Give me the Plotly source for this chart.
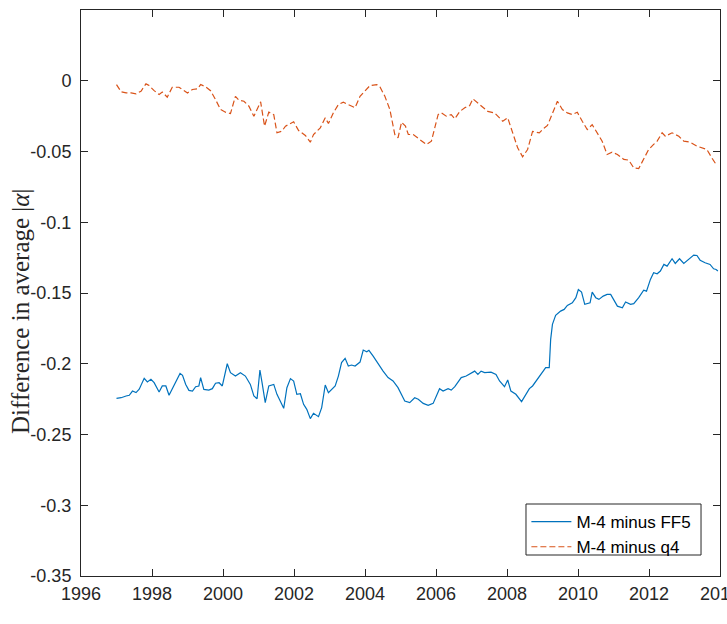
import plotly.graph_objects as go

# ---- data (decimal years) ----
ff5_years = [1997.00, 1997.13, 1997.27, 1997.36, 1997.45, 1997.55, 1997.64, 1997.78, 1997.87, 1997.97,
             1998.06, 1998.20, 1998.29, 1998.39, 1998.48, 1998.57, 1998.67, 1998.79, 1998.86, 1998.95,
             1999.04, 1999.14, 1999.23, 1999.32, 1999.37, 1999.46, 1999.60, 1999.70, 1999.79, 1999.89,
             1999.98, 2000.12, 2000.21, 2000.35, 2000.49, 2000.63, 2000.77, 2000.87, 2000.96, 2001.04,
             2001.10, 2001.19, 2001.29, 2001.43, 2001.52, 2001.62, 2001.71, 2001.80, 2001.90, 2001.99,
             2002.08, 2002.18, 2002.27, 2002.36, 2002.46, 2002.55, 2002.69, 2002.78, 2002.88, 2002.97,
             2003.06, 2003.16, 2003.25, 2003.34, 2003.44, 2003.53, 2003.62, 2003.72, 2003.86, 2003.95,
             2004.05, 2004.11, 2004.23, 2004.37, 2004.51, 2004.65, 2004.79, 2004.93, 2005.03, 2005.12,
             2005.26, 2005.40, 2005.50, 2005.64, 2005.78, 2005.92, 2006.10, 2006.20, 2006.34, 2006.43,
             2006.53, 2006.71, 2006.85, 2006.99, 2007.09, 2007.18, 2007.27, 2007.37, 2007.55, 2007.69,
             2007.79, 2007.93, 2008.02, 2008.11, 2008.25, 2008.41, 2008.63, 2008.72, 2008.86, 2009.00,
             2009.09, 2009.19, 2009.23, 2009.28, 2009.37, 2009.51, 2009.61, 2009.70, 2009.84, 2009.94,
             2010.01, 2010.10, 2010.19, 2010.34, 2010.40, 2010.50, 2010.59, 2010.71, 2010.82, 2010.92,
             2011.01, 2011.11, 2011.25, 2011.34, 2011.48, 2011.57, 2011.71, 2011.85, 2011.93, 2012.04,
             2012.13, 2012.23, 2012.32, 2012.42, 2012.51, 2012.65, 2012.74, 2012.86, 2012.98, 2013.12,
             2013.26, 2013.35, 2013.44, 2013.58, 2013.72, 2013.82, 2013.89, 2013.94]
ff5_values = [-0.2244, -0.2240, -0.2228, -0.2223, -0.2193, -0.2204, -0.2180, -0.2103, -0.2129, -0.2110,
              -0.2134, -0.2200, -0.2157, -0.2157, -0.2223, -0.2176, -0.2134, -0.2068, -0.2082, -0.2146,
              -0.2188, -0.2193, -0.2162, -0.2157, -0.2098, -0.2181, -0.2186, -0.2176, -0.2138, -0.2134,
              -0.2157, -0.2000, -0.2063, -0.2087, -0.2063, -0.2087, -0.2146, -0.2228, -0.2247, -0.2044,
              -0.2134, -0.2275, -0.2157, -0.2146, -0.2216, -0.2263, -0.2315, -0.2169, -0.2105, -0.2122,
              -0.2216, -0.2212, -0.2287, -0.2322, -0.2388, -0.2350, -0.2374, -0.2310, -0.2150, -0.2204,
              -0.2181, -0.2157, -0.2087, -0.1992, -0.1962, -0.2016, -0.2009, -0.2016, -0.1988, -0.1903,
              -0.1915, -0.1905, -0.1946, -0.2004, -0.2052, -0.2098, -0.2122, -0.2169, -0.2216, -0.2263,
              -0.2275, -0.2240, -0.2251, -0.2280, -0.2294, -0.2280, -0.2176, -0.2193, -0.2176, -0.2186,
              -0.2162, -0.2098, -0.2087, -0.2063, -0.2052, -0.2075, -0.2052, -0.2063, -0.2059, -0.2075,
              -0.2122, -0.2162, -0.2115, -0.2193, -0.2216, -0.2268, -0.2176, -0.2157, -0.2110, -0.2059,
              -0.2028, -0.2028, -0.1828, -0.1722, -0.1658, -0.1628, -0.1616, -0.1588, -0.1569, -0.1533,
              -0.1475, -0.1494, -0.1580, -0.1569, -0.1494, -0.1533, -0.1545, -0.1522, -0.1510, -0.1510,
              -0.1545, -0.1593, -0.1604, -0.1564, -0.1580, -0.1575, -0.1533, -0.1480, -0.1487, -0.1404,
              -0.1357, -0.1364, -0.1345, -0.1298, -0.1310, -0.1258, -0.1291, -0.1258, -0.1291, -0.1258,
              -0.1232, -0.1235, -0.1268, -0.1286, -0.1298, -0.1329, -0.1334, -0.1345]

q4_years = [1997.00, 1997.13, 1997.27, 1997.41, 1997.55, 1997.69, 1997.83, 1997.92, 1998.06, 1998.20,
            1998.29, 1998.43, 1998.57, 1998.76, 1999.00, 1999.14, 1999.28, 1999.37, 1999.51, 1999.65,
            1999.79, 1999.93, 2000.07, 2000.21, 2000.35, 2000.45, 2000.59, 2000.73, 2000.87, 2001.06,
            2001.17, 2001.29, 2001.43, 2001.52, 2001.66, 2001.76, 2001.99, 2002.13, 2002.32, 2002.46,
            2002.55, 2002.74, 2002.88, 2002.97, 2003.11, 2003.25, 2003.39, 2003.62, 2003.72, 2003.86,
            2004.00, 2004.14, 2004.33, 2004.42, 2004.56, 2004.70, 2004.84, 2004.93, 2005.03, 2005.14,
            2005.22, 2005.36, 2005.54, 2005.73, 2005.87, 2006.06, 2006.15, 2006.29, 2006.43, 2006.53,
            2006.67, 2006.81, 2006.95, 2007.04, 2007.23, 2007.46, 2007.65, 2007.88, 2008.02, 2008.16,
            2008.30, 2008.44, 2008.58, 2008.72, 2008.91, 2009.05, 2009.14, 2009.23, 2009.42, 2009.56,
            2009.70, 2009.84, 2009.98, 2010.12, 2010.26, 2010.40, 2010.54, 2010.68, 2010.82, 2010.96,
            2011.11, 2011.29, 2011.43, 2011.57, 2011.71, 2011.85, 2011.99, 2012.13, 2012.23, 2012.37,
            2012.46, 2012.65, 2012.84, 2012.98, 2013.16, 2013.35, 2013.49, 2013.63, 2013.77, 2013.86,
            2013.94]
q4_values = [-0.0027, -0.0078, -0.0086, -0.0086, -0.0093, -0.0074, -0.0022, -0.0034, -0.0070, -0.0097,
             -0.0080, -0.0116, -0.0046, -0.0046, -0.0086, -0.0062, -0.0057, -0.0027, -0.0043, -0.0070,
             -0.0133, -0.0203, -0.0222, -0.0232, -0.0110, -0.0138, -0.0145, -0.0180, -0.0251, -0.0149,
             -0.0321, -0.0222, -0.0239, -0.0368, -0.0356, -0.0321, -0.0290, -0.0352, -0.0387, -0.0434,
             -0.0380, -0.0333, -0.0262, -0.0302, -0.0227, -0.0168, -0.0152, -0.0180, -0.0191, -0.0110,
             -0.0074, -0.0034, -0.0027, -0.0043, -0.0110, -0.0203, -0.0380, -0.0403, -0.0293, -0.0321,
             -0.0380, -0.0380, -0.0415, -0.0450, -0.0427, -0.0239, -0.0227, -0.0250, -0.0239, -0.0269,
             -0.0217, -0.0191, -0.0175, -0.0128, -0.0168, -0.0217, -0.0227, -0.0286, -0.0262, -0.0368,
             -0.0474, -0.0537, -0.0486, -0.0358, -0.0368, -0.0334, -0.0316, -0.0262, -0.0145, -0.0203,
             -0.0227, -0.0239, -0.0223, -0.0286, -0.0345, -0.0310, -0.0368, -0.0427, -0.0521, -0.0505,
             -0.0521, -0.0556, -0.0561, -0.0616, -0.0621, -0.0556, -0.0486, -0.0450, -0.0427, -0.0368,
             -0.0392, -0.0368, -0.0392, -0.0427, -0.0434, -0.0462, -0.0474, -0.0486, -0.0545, -0.0580,
             -0.0590]

x_ticks = [1996, 1998, 2000, 2002, 2004, 2006, 2008, 2010, 2012, 2014]
y_ticks = [0, -0.05, -0.1, -0.15, -0.2, -0.25, -0.3, -0.35]
y_tick_labels = ["0", "-0.05", "-0.1", "-0.15", "-0.2", "-0.25", "-0.3", "-0.35"]
series_names = ["M-4 minus FF5", "M-4 minus q4"]

AX = "#262626"
TICKFONT = dict(family="Liberation Sans, Arial, sans-serif", size=18, color=AX)

fig = go.Figure()
fig.add_trace(go.Scatter(x=ff5_years, y=ff5_values, mode="lines", name=series_names[0],
                         line=dict(color="#0072BD", width=1.2)))
fig.add_trace(go.Scatter(x=q4_years, y=q4_values, mode="lines", name=series_names[1],
                         line=dict(color="#D95319", width=1.2, dash="6px,3px")))

fig.update_layout(
    width=727, height=624,
    margin=dict(l=81, r=7, t=10, b=48, autoexpand=False),
    paper_bgcolor="white", plot_bgcolor="white",
    showlegend=True,
    legend=dict(x=0.697, y=0.127, xanchor="left", yanchor="top",
                bgcolor="rgba(255,255,255,0)", borderwidth=0,
                font=dict(family="Liberation Sans, Arial, sans-serif", size=17, color="black"),
                tracegroupgap=0, itemwidth=40),
    # legend frame (MATLAB-style box, tighter than plotly's auto legend box)
    shapes=[dict(type="rect", xref="paper", yref="paper", x0=0.6964, x1=0.9703,
                 y0=0.0371, y1=0.1272, line=dict(color=AX, width=1),
                 fillcolor="white", layer="above")],
    annotations=[dict(text="Difference in average |<i>α</i>|", xref="paper", yref="paper",
                      x=-0.095, y=0.467, xanchor="center", yanchor="middle", textangle=-90,
                      showarrow=False,
                      font=dict(family="Liberation Serif, DejaVu Serif, serif", size=25, color=AX))],
)
fig.update_xaxes(range=[1996, 2014], tickvals=x_ticks, ticktext=[str(t) for t in x_ticks],
                 showline=True, linecolor=AX, linewidth=1, mirror="ticks",
                 ticks="inside", ticklen=7, tickcolor=AX, tickwidth=1, ticklabelstandoff=1,
                 ticklabeloverflow="allow", automargin=False,
                 showgrid=False, zeroline=False, tickfont=TICKFONT)
fig.update_yaxes(range=[-0.35, 0.05], tickvals=y_ticks, ticktext=y_tick_labels,
                 showline=True, linecolor=AX, linewidth=1, mirror="ticks",
                 ticks="inside", ticklen=7, tickcolor=AX, tickwidth=1, ticklabelstandoff=5,
                 automargin=False,
                 showgrid=False, zeroline=False, tickfont=TICKFONT)

fig.write_html("out.html")
